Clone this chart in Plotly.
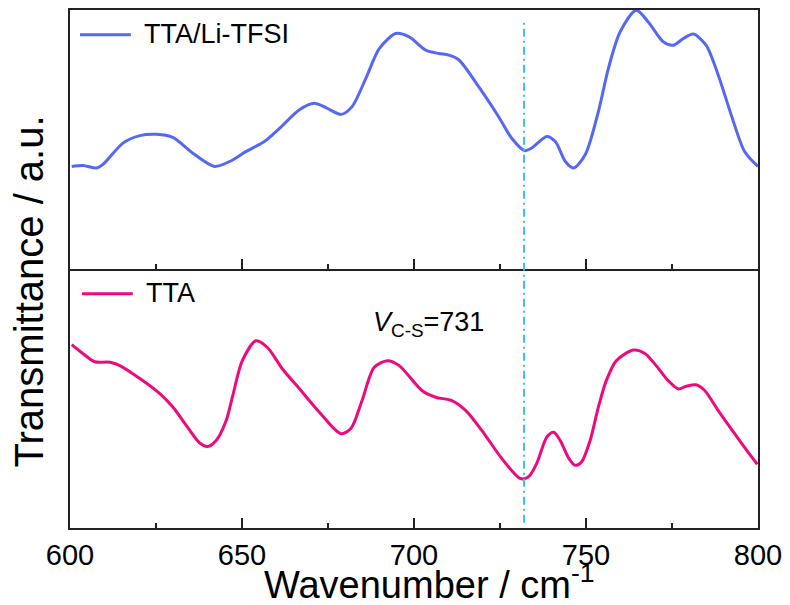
import plotly.graph_objects as go

# ---- data ----
wn_tfsi = [600.5, 603.8, 607.7, 609.6, 615.4, 620.3, 625.1, 629.9, 635.7, 642.0,
           646.4, 651.2, 656.5, 660.9, 666.7, 671.0, 674.4, 678.8, 682.0, 686.0,
           689.9, 694.7, 698.6, 703.4, 707.2, 710.1, 713.0, 718.8, 724.6, 728.4,
           732.2, 734.2, 738.6, 741.1, 744.0, 746.4, 749.8, 753.6, 756.5, 759.9,
           764.6, 768.1, 772.5, 775.4, 778.3, 781.2, 784.9, 788.4, 792.2, 796.1, 800.0]
t_tfsi = [0.396, 0.400, 0.390, 0.404, 0.486, 0.515, 0.520, 0.508, 0.447, 0.396,
          0.415, 0.454, 0.492, 0.543, 0.615, 0.640, 0.623, 0.597, 0.627, 0.736,
          0.851, 0.909, 0.896, 0.845, 0.832, 0.826, 0.808, 0.704, 0.588, 0.505,
          0.457, 0.467, 0.512, 0.492, 0.415, 0.390, 0.442, 0.608, 0.774, 0.915,
          0.999, 0.954, 0.877, 0.864, 0.890, 0.907, 0.864, 0.750, 0.596, 0.454, 0.396]

wn_tta = [600.5, 603.8, 607.2, 611.6, 614.5, 620.3, 626.1, 629.9, 633.8, 637.7,
          640.0, 642.5, 645.4, 647.2, 650.1, 654.1, 657.4, 661.7, 666.7, 672.5,
          678.8, 681.7, 684.9, 688.4, 692.3, 695.7, 702.3, 706.3, 711.0, 715.0,
          719.7, 725.5, 730.9, 733.3, 735.7, 738.6, 740.6, 742.5, 745.0, 746.9,
          748.7, 751.2, 753.6, 755.9, 758.8, 763.8, 767.2, 770.4, 773.9, 776.8,
          779.1, 782.0, 784.5, 788.4, 793.2, 797.1, 799.8]
t_tta = [0.708, 0.673, 0.642, 0.640, 0.627, 0.577, 0.519, 0.467, 0.396, 0.328,
         0.315, 0.338, 0.415, 0.505, 0.646, 0.723, 0.697, 0.615, 0.538, 0.447,
         0.364, 0.385, 0.492, 0.620, 0.646, 0.627, 0.531, 0.505, 0.492, 0.454,
         0.377, 0.269, 0.191, 0.198, 0.250, 0.351, 0.370, 0.338, 0.269, 0.242,
         0.255, 0.338, 0.467, 0.569, 0.646, 0.687, 0.673, 0.627, 0.569, 0.537,
         0.547, 0.553, 0.531, 0.454, 0.364, 0.293, 0.246]

series_names = ["TTA/Li-TFSI", "TTA"]
cs_peak = 732
cs_label = "<i>V</i><sub>C-S</sub>=731"
x_ticks = [600, 650, 700, 750, 800]
x_title = "Wavenumber / cm<sup>-1</sup>"
y_title = "Transmittance / a.u."

BLUE = "#5568f3"
PINK = "#ee0a7e"
FRAME = "#222222"
FONT = "Arial, Liberation Sans, sans-serif"

fig = go.Figure()
fig.add_trace(go.Scatter(x=wn_tfsi, y=t_tfsi, mode="lines", xaxis="x2", yaxis="y2",
                         line=dict(color=BLUE, width=3, shape="spline", smoothing=0.8),
                         name=series_names[0], showlegend=False))
fig.add_trace(go.Scatter(x=wn_tta, y=t_tta, mode="lines", xaxis="x", yaxis="y",
                         line=dict(color=PINK, width=3, shape="spline", smoothing=0.8),
                         name=series_names[1], showlegend=False))

xcommon = dict(range=[600, 800], showline=True, linecolor=FRAME, linewidth=1.5,
               ticks="inside", ticklen=10, tickwidth=1.5, tickcolor=FRAME,
               tickvals=x_ticks, showgrid=False, zeroline=False,
               minor=dict(ticks="inside", ticklen=5, tickwidth=1.5, tickcolor=FRAME,
                          dtick=25, tick0=600, showgrid=False))
ycommon = dict(range=[0, 1], showline=True, linecolor=FRAME, linewidth=1.5,
               mirror=True, ticks="", showticklabels=False, showgrid=False,
               zeroline=False)

fig.update_layout(
    width=790, height=605,
    margin=dict(l=70, r=30, t=8, b=77),
    paper_bgcolor="white", plot_bgcolor="white",
    font=dict(family=FONT, color="black"),
    xaxis=dict(**xcommon, anchor="y", showticklabels=True,
               tickfont=dict(size=29, family=FONT, color="black")),
    xaxis2=dict(**xcommon, anchor="y2", matches="x", showticklabels=False,
                mirror=True),
    yaxis=dict(**ycommon, domain=[0, 0.5], anchor="x"),
    yaxis2=dict(**ycommon, domain=[0.5, 1], anchor="x2"),
)

# vertical reference line across both panels
fig.add_shape(type="line", xref="x", yref="paper", x0=cs_peak, x1=cs_peak,
              y0=0.01, y1=0.981,
              line=dict(color="#3db8fa", width=2, dash="8px,4px,2px,4px"))

# legends (drawn as line + text)
fig.add_shape(type="line", xref="paper", yref="paper", x0=0.0145, x1=0.0884,
              y0=0.952, y1=0.952, line=dict(color=BLUE, width=3))
fig.add_annotation(xref="paper", yref="paper", x=0.104, y=0.954, xanchor="left",
                   yanchor="middle", text=series_names[0], showarrow=False,
                   font=dict(size=27, family=FONT, color="black"))
fig.add_shape(type="line", xref="paper", yref="paper", x0=0.0174, x1=0.0913,
              y0=0.452, y1=0.452, line=dict(color=PINK, width=3))
fig.add_annotation(xref="paper", yref="paper", x=0.108, y=0.454, xanchor="left",
                   yanchor="middle", text=series_names[1], showarrow=False,
                   font=dict(size=27, family=FONT, color="black"))

# peak label
fig.add_annotation(xref="paper", yref="paper", x=0.4377, y=0.394, xanchor="left",
                   yanchor="middle", text=cs_label, showarrow=False,
                   font=dict(size=27, family=FONT, color="black"))

# axis titles
fig.add_annotation(xref="paper", yref="paper", x=0.523, y=-0.154, xanchor="center",
                   yanchor="bottom", text=x_title, showarrow=False,
                   font=dict(size=38, family=FONT, color="black"))
fig.add_annotation(xref="paper", yref="paper", x=-0.0594, y=0.457, xanchor="center",
                   yanchor="middle", text=y_title, textangle=-90,
                   showarrow=False, font=dict(size=40, family=FONT, color="black"))

fig.write_html("out.html")
